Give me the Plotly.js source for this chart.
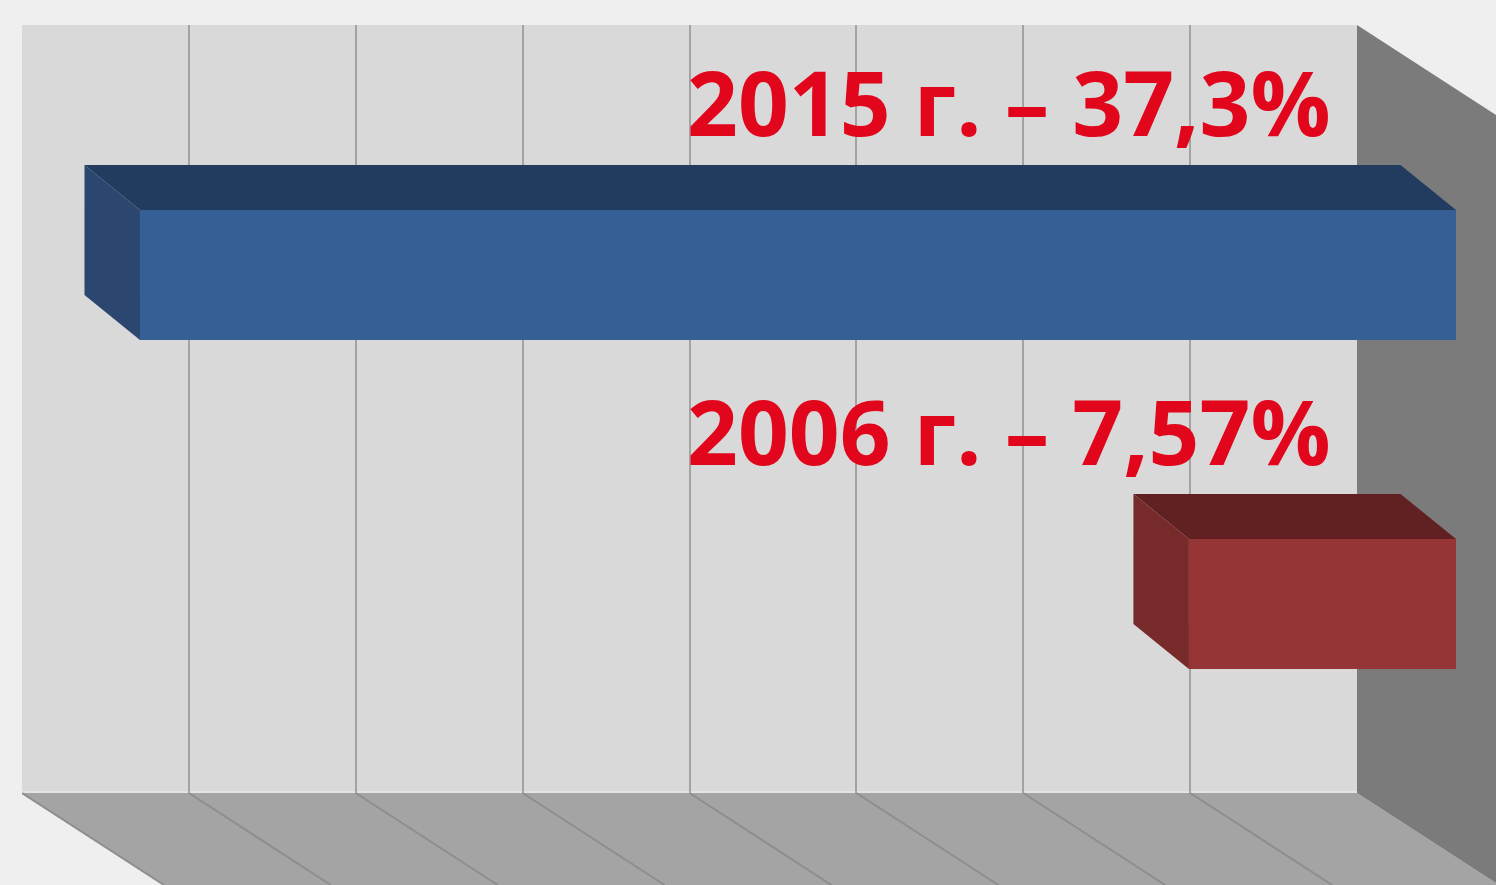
<!DOCTYPE html>
<html>
<head>
<meta charset="utf-8">
<script src="https://cdn.plot.ly/plotly-3.0.1.min.js"></script>
<style>html,body{margin:0;padding:0;background:#efefef;}#chart{width:1496px;height:885px;}</style>
</head>
<body>
<div id="chart"></div>
<script>
// ---- data ----
const years = ['2006', '2015'];
const values = [7.57, 37.3];
const labels = ['2006 г. – 7,57%', '2015 г. – 37,3%'];
const frontColors = ['#953535', '#365f95'];
const topColors = ['#612122', '#213c5e'];
const sideColors = ['#772a2a', '#2b4770'];
const wallTicks = [0, 5, 10, 15, 20, 25, 30, 35, 40];

// ---- geometry helpers (figure pixels -> paper) ----
const W = 1496, H = 885;
const px = x => x / W;
const py = y => (H - y) / H;

const barWidth = 0.395;     // category units
const depthX = 1.573;       // value units (back face shifted left on reversed axis)
const depthY = 0.137;       // category units (back face shifted up)

const traces = [];
// invisible trace to create wall subplot
traces.push({x: [0, 40], y: [0, 1], xaxis: 'x', yaxis: 'y', mode: 'markers',
  marker: {opacity: 0}, hoverinfo: 'skip', showlegend: false});

years.forEach((yr, i) => {
  const v = values[i];
  const yt = i + barWidth / 2, yb = i - barWidth / 2;
  // top face
  traces.push({
    x: [v, 0, depthX, v + depthX, v],
    y: [yt, yt, yt + depthY, yt + depthY, yt],
    xaxis: 'x2', yaxis: 'y2', mode: 'lines', fill: 'toself',
    fillcolor: topColors[i], line: {width: 0, color: topColors[i]},
    hoverinfo: 'skip', showlegend: false
  });
  // left side face
  traces.push({
    x: [v, v + depthX, v + depthX, v, v],
    y: [yt, yt + depthY, yb + depthY, yb, yt],
    xaxis: 'x2', yaxis: 'y2', mode: 'lines', fill: 'toself',
    fillcolor: sideColors[i], line: {width: 0, color: sideColors[i]},
    hoverinfo: 'skip', showlegend: false
  });
});
// front faces
traces.push({
  type: 'bar', orientation: 'h', x: values, y: [0, 1], base: 0,
  width: barWidth, xaxis: 'x2', yaxis: 'y2',
  marker: {color: frontColors, line: {width: 0}},
  hoverinfo: 'skip', showlegend: false
});

// ---- decorative room shapes ----
const shapes = [];
function poly(pts) {
  return 'M' + pts.map(p => px(p[0]) + ',' + py(p[1])).join('L') + 'Z';
}
// wall
shapes.push({type: 'path', xref: 'paper', yref: 'paper', layer: 'below',
  path: poly([[22, 25], [1357, 25], [1357, 793], [22, 793]]),
  fillcolor: '#d9d9d9', line: {width: 0}});
// floor
shapes.push({type: 'path', xref: 'paper', yref: 'paper', layer: 'below',
  path: poly([[22, 793], [1357, 793], [1496, 883], [1496, 885], [164, 885]]),
  fillcolor: '#a4a4a4', line: {width: 0}});
// side wall
shapes.push({type: 'path', xref: 'paper', yref: 'paper', layer: 'below',
  path: poly([[1357, 25], [1496, 115], [1496, 883], [1357, 793]]),
  fillcolor: '#7b7b7b', line: {width: 0}});
// wall bottom light edge
shapes.push({type: 'line', xref: 'paper', yref: 'paper', layer: 'below',
  x0: px(22), x1: px(1357), y0: py(792), y1: py(792),
  line: {color: '#e4e4e4', width: 2}});
// floor grid lines, from each wall tick going toward the viewer
const floorDX = 142 / (1335 / 40);
wallTicks.forEach(t => {
  shapes.push({type: 'line', xref: 'x', yref: 'paper', layer: 'below',
    x0: t, x1: t - floorDX, y0: py(793), y1: py(885),
    line: {color: '#8e8e8e', width: 2}});
});

// ---- labels ----
const annotations = labels.map((t, i) => ({
  text: t, xref: 'paper', yref: 'y2', x: px(1333), y: i + 0.528,
  xanchor: 'right', yanchor: 'middle', showarrow: false,
  font: {family: 'Open Sans', size: 89, color: '#e1061b', weight: 700}
}));

const layout = {
  width: W, height: H,
  margin: {l: 0, r: 0, t: 0, b: 0, pad: 0},
  paper_bgcolor: '#efefef', plot_bgcolor: 'rgba(0,0,0,0)',
  showlegend: false,
  xaxis: {domain: [px(22), px(1357)], range: [40, 0], dtick: 5, tick0: 0,
    showgrid: true, gridcolor: '#a3a3a3', gridwidth: 2, zeroline: false,
    showticklabels: false, ticks: '', showline: false, fixedrange: true},
  yaxis: {domain: [py(793), py(25)], range: [0, 1], showgrid: false,
    zeroline: false, showticklabels: false, showline: false, fixedrange: true},
  xaxis2: {domain: [0, 1], anchor: 'y2', range: [1456 / 35.282, -40 / 35.282],
    showgrid: false, zeroline: false, showticklabels: false, showline: false,
    fixedrange: true},
  yaxis2: {domain: [0, 1], anchor: 'x2', range: [(604 - 885) / 329, 604 / 329],
    showgrid: false, zeroline: false, showticklabels: false, showline: false,
    fixedrange: true},
  shapes: shapes,
  annotations: annotations
};

Plotly.newPlot('chart', traces, layout, {displayModeBar: false, staticPlot: true});
</script>
</body>
</html>
